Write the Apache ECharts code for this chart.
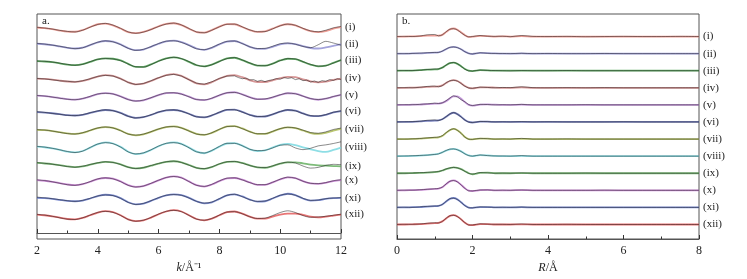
<!DOCTYPE html>
<html>
<head>
<meta charset="utf-8">
<script src="https://cdn.jsdelivr.net/npm/echarts@6/dist/echarts.min.js"></script>
<style>
  html, body { margin: 0; padding: 0; background: #fff; }
  #chart { width: 747px; height: 279px; }
</style>
</head>
<body>
<div id="chart"></div>
<script>
// panel labels
var labels = ['(i)', '(ii)', '(iii)', '(iv)', '(v)', '(vi)', '(vii)', '(viii)', '(ix)', '(x)', '(xi)', '(xii)'];
var colors = ['#e8867c', '#8c8cd2', '#3f9a44', '#cc7c7c', '#b680d2', '#5562ae', '#a9b84c', '#72d6de', '#5caa58', '#c272d0', '#5d72c8', '#e25252'];

// a. k-space, k grid (Å^-1)
var kA = [2, 2.25, 2.5, 2.75, 3, 3.25, 3.5, 3.75, 4, 4.25, 4.5, 4.75, 5, 5.25, 5.5, 5.75, 6, 6.25, 6.5, 6.75,
  7, 7.25, 7.5, 7.75, 8, 8.25, 8.5, 8.75, 9, 9.25, 9.5, 9.75, 10, 10.25, 10.5, 10.75, 11, 11.25, 11.5, 11.75, 12];
// (iv) data is sampled finer at high k (noisy)
var kIV = [2, 2.25, 2.5, 2.75, 3, 3.25, 3.5, 3.75, 4, 4.25, 4.5, 4.75, 5, 5.25, 5.5, 5.75, 6, 6.25, 6.5, 6.75,
  7, 7.25, 7.5, 7.75, 8, 8.25, 8.5, 8.625, 8.75, 8.875, 9, 9.125, 9.25, 9.375, 9.5, 9.625, 9.75, 9.875, 10,
  10.125, 10.25, 10.375, 10.5, 10.625, 10.75, 10.875, 11, 11.125, 11.25, 11.375, 11.5, 11.625, 11.75, 11.875, 12];

var fitA1 = [0.03,-0.01,-0.07,-0.15,-0.21,-0.22,-0.12,0.06,0.22,0.26,0.16,-0.03,-0.24,-0.3,-0.23,-0.08,0.1,0.24,0.28,0.17,-0.04,-0.24,-0.27,-0.12,0.08,0.23,0.22,0.06,-0.12,-0.23,-0.2,-0.04,0.14,0.22,0.15,-0.03,-0.18,-0.24,-0.18,-0.04,0.05];
var datA1 = [0.04,0.0,-0.06,-0.14,-0.2,-0.23,-0.13,0.05,0.21,0.27,0.17,-0.02,-0.23,-0.31,-0.24,-0.09,0.09,0.23,0.29,0.18,-0.03,-0.23,-0.28,-0.13,0.07,0.22,0.23,0.07,-0.11,-0.22,-0.21,-0.05,0.13,0.23,0.16,-0.02,-0.17,-0.22,-0.13,0.01,0.09];
var fitA2 = [0.08,0.05,0.0,-0.08,-0.16,-0.2,-0.15,0.0,0.16,0.24,0.2,0.04,-0.18,-0.3,-0.26,-0.1,0.08,0.22,0.26,0.18,0.0,-0.2,-0.28,-0.16,0.04,0.2,0.24,0.1,-0.1,-0.22,-0.22,-0.1,0.04,0.1,0.06,-0.06,-0.17,-0.2,-0.14,-0.04,0.04];
var datA2 = [0.1,0.06,0.0,-0.07,-0.15,-0.21,-0.16,0.01,0.17,0.25,0.19,0.03,-0.19,-0.31,-0.25,-0.09,0.09,0.23,0.25,0.16,-0.02,-0.22,-0.27,-0.14,0.06,0.22,0.24,0.09,-0.1,-0.2,-0.19,-0.07,0.08,0.12,0.05,-0.08,-0.15,0.02,0.22,0.12,0.0];
var fitA3 = [0.06,0.04,0.0,-0.07,-0.14,-0.17,-0.12,0.02,0.16,0.22,0.2,0.1,-0.1,-0.28,-0.28,-0.13,0.07,0.22,0.28,0.2,0.02,-0.18,-0.24,-0.14,0.05,0.22,0.26,0.12,-0.06,-0.2,-0.2,-0.08,0.1,0.2,0.18,0.02,-0.14,-0.24,-0.2,-0.04,0.12];
var datA3 = [0.07,0.05,0.01,-0.06,-0.13,-0.18,-0.13,0.03,0.17,0.21,0.19,0.09,-0.11,-0.27,-0.29,-0.14,0.06,0.21,0.29,0.21,0.03,-0.17,-0.25,-0.15,0.04,0.21,0.27,0.13,-0.05,-0.19,-0.21,-0.09,0.09,0.21,0.19,0.03,-0.13,-0.23,-0.21,-0.05,0.13];
var fitA4 = [0.04,0.02,-0.02,-0.08,-0.13,-0.15,-0.1,0.02,0.16,0.24,0.2,0.04,-0.18,-0.3,-0.26,-0.1,0.08,0.24,0.3,0.2,-0.02,-0.24,-0.3,-0.17,0.04,0.2,0.24,0.12,-0.06,-0.16,-0.16,-0.06,0.06,0.14,0.12,0.0,-0.12,-0.18,-0.14,-0.04,0.04];
var datA4 = [0.05,0.02,-0.03,-0.09,-0.12,-0.16,-0.09,0.03,0.17,0.23,0.19,0.03,-0.19,-0.31,-0.25,-0.09,0.09,0.23,0.29,0.19,-0.03,-0.23,-0.29,-0.15,0.05,0.19,0.2,
  0.1,0.03,0.07,-0.04,-0.02,-0.12,-0.06,-0.14,-0.07,-0.03,0.04,0.0,0.1,0.05,0.09,-0.02,0.03,-0.08,-0.05,-0.16,-0.1,-0.18,-0.08,-0.12,-0.02,-0.07,0.03,-0.01];
var fitA5 = [0.04,0.01,-0.04,-0.1,-0.16,-0.19,-0.14,-0.01,0.13,0.19,0.15,0.0,-0.18,-0.27,-0.23,-0.09,0.07,0.19,0.2,0.14,-0.02,-0.18,-0.22,-0.12,0.06,0.2,0.24,0.12,-0.05,-0.16,-0.16,-0.06,0.08,0.18,0.16,0.02,-0.14,-0.2,-0.14,-0.02,0.08];
var datA5 = [0.05,0.02,-0.04,-0.11,-0.17,-0.2,-0.13,0.0,0.14,0.18,0.14,-0.01,-0.19,-0.28,-0.22,-0.08,0.08,0.2,0.21,0.13,-0.03,-0.19,-0.21,-0.11,0.07,0.21,0.23,0.11,-0.06,-0.17,-0.15,-0.05,0.09,0.19,0.15,0.01,-0.13,-0.19,-0.13,-0.01,0.09];
var fitA6 = [0.08,0.05,0.01,-0.04,-0.1,-0.12,-0.08,0.03,0.14,0.2,0.17,0.03,-0.16,-0.26,-0.22,-0.09,0.07,0.18,0.2,0.14,-0.02,-0.19,-0.23,-0.12,0.06,0.21,0.22,0.09,-0.08,-0.19,-0.18,-0.06,0.1,0.2,0.16,0.0,-0.14,-0.16,-0.08,0.06,0.14];
var datA6 = [0.1,0.06,0.0,-0.05,-0.11,-0.13,-0.07,0.04,0.15,0.21,0.16,0.02,-0.17,-0.27,-0.21,-0.08,0.08,0.19,0.21,0.13,-0.03,-0.2,-0.22,-0.11,0.07,0.22,0.21,0.08,-0.09,-0.18,-0.17,-0.05,0.11,0.21,0.15,-0.01,-0.13,-0.15,-0.07,0.07,0.15];
var fitA7 = [0.04,0.02,-0.03,-0.1,-0.17,-0.2,-0.14,0.0,0.14,0.2,0.16,0.0,-0.2,-0.28,-0.22,-0.08,0.08,0.2,0.24,0.16,-0.02,-0.2,-0.26,-0.14,0.06,0.24,0.26,0.12,-0.06,-0.2,-0.2,-0.06,0.1,0.18,0.14,0.0,-0.15,-0.2,-0.14,0.0,0.1];
var datA7 = [0.05,0.03,-0.03,-0.11,-0.18,-0.21,-0.13,0.01,0.15,0.21,0.15,-0.01,-0.21,-0.27,-0.21,-0.07,0.09,0.21,0.23,0.15,-0.03,-0.21,-0.25,-0.13,0.07,0.23,0.25,0.11,-0.07,-0.19,-0.19,-0.05,0.11,0.19,0.15,0.02,-0.12,-0.16,-0.08,0.06,0.14];
var fitA8 = [0.06,0.02,-0.05,-0.14,-0.24,-0.28,-0.2,0.0,0.2,0.3,0.24,0.04,-0.24,-0.38,-0.32,-0.14,0.08,0.24,0.3,0.22,0.0,-0.24,-0.33,-0.18,0.06,0.24,0.26,0.12,-0.1,-0.2,-0.16,0.0,0.16,0.22,0.14,0.02,-0.1,-0.2,-0.25,-0.14,0.0];
var datA8 = [0.07,0.03,-0.04,-0.13,-0.23,-0.29,-0.21,0.01,0.21,0.29,0.23,0.03,-0.25,-0.37,-0.31,-0.13,0.09,0.25,0.29,0.21,-0.01,-0.25,-0.32,-0.17,0.07,0.25,0.25,0.11,-0.1,-0.18,-0.16,-0.02,0.14,0.16,-0.02,-0.12,-0.04,0.1,0.16,0.24,0.34];
var fitA9 = [0.1,0.07,0.03,-0.03,-0.1,-0.14,-0.1,0.0,0.1,0.16,0.14,0.02,-0.14,-0.22,-0.18,-0.06,0.06,0.16,0.2,0.14,-0.02,-0.18,-0.24,-0.14,0.04,0.16,0.18,0.1,-0.04,-0.16,-0.18,-0.08,0.06,0.14,0.14,0.08,0.0,-0.04,-0.06,-0.08,-0.1];
var datA9 = [0.12,0.08,0.03,-0.04,-0.11,-0.15,-0.09,0.01,0.11,0.17,0.13,0.01,-0.15,-0.23,-0.17,-0.05,0.07,0.17,0.21,0.13,-0.03,-0.19,-0.23,-0.13,0.05,0.17,0.19,0.09,-0.05,-0.15,-0.17,-0.07,0.07,0.15,0.1,-0.08,-0.2,-0.16,-0.04,0.02,0.0];
var fitA10 = [0.1,0.06,0.0,-0.08,-0.16,-0.2,-0.14,0.0,0.16,0.22,0.18,0.02,-0.2,-0.3,-0.26,-0.1,0.08,0.24,0.32,0.24,0.02,-0.2,-0.28,-0.16,0.04,0.2,0.22,0.12,-0.04,-0.18,-0.18,-0.04,0.14,0.26,0.22,0.04,-0.1,-0.12,-0.06,0.04,0.1];
var datA10 = [0.11,0.07,0.0,-0.09,-0.17,-0.21,-0.13,0.01,0.17,0.23,0.17,0.01,-0.21,-0.31,-0.25,-0.09,0.09,0.25,0.31,0.23,0.01,-0.21,-0.27,-0.15,0.05,0.21,0.23,0.11,-0.05,-0.17,-0.17,-0.03,0.15,0.27,0.21,0.03,-0.09,-0.11,-0.05,0.06,0.12];
var fitA11 = [0.06,0.04,0.0,-0.06,-0.12,-0.14,-0.1,0.02,0.16,0.24,0.2,0.04,-0.2,-0.32,-0.28,-0.12,0.06,0.2,0.26,0.22,0.06,-0.14,-0.26,-0.2,0.0,0.2,0.26,0.14,-0.04,-0.16,-0.14,0.02,0.2,0.3,0.22,0.02,-0.1,-0.08,0.0,0.04,0.06];
var datA11 = [0.1,0.06,0.01,-0.05,-0.11,-0.15,-0.09,0.03,0.17,0.23,0.19,0.03,-0.21,-0.33,-0.27,-0.11,0.07,0.21,0.25,0.21,0.05,-0.15,-0.25,-0.19,0.01,0.21,0.27,0.13,-0.05,-0.15,-0.13,0.03,0.21,0.29,0.21,0.03,-0.09,-0.07,0.01,0.05,0.07];
var fitA12 = [0.08,0.04,-0.02,-0.1,-0.18,-0.2,-0.12,0.04,0.2,0.28,0.22,0.04,-0.2,-0.3,-0.26,-0.1,0.1,0.26,0.34,0.26,0.04,-0.18,-0.26,-0.16,0.04,0.22,0.26,0.14,-0.04,-0.16,-0.16,-0.04,0.08,0.14,0.14,0.06,-0.04,-0.08,-0.04,0.02,0.08];
var datA12 = [0.09,0.05,-0.02,-0.11,-0.19,-0.21,-0.11,0.05,0.21,0.27,0.21,0.03,-0.21,-0.31,-0.25,-0.09,0.11,0.27,0.33,0.25,0.03,-0.19,-0.25,-0.15,0.05,0.23,0.25,0.13,-0.05,-0.15,-0.13,0.02,0.2,0.3,0.2,0.02,-0.08,-0.06,-0.02,0.04,0.1];

// b. R-space, R grid (Å)
var rB = [0, 0.2, 0.4, 0.6, 0.8, 1.0, 1.1, 1.2, 1.3, 1.4, 1.5, 1.6, 1.7, 1.8, 1.9, 2.0, 2.2, 2.4, 2.6, 2.8, 3.0, 3.3, 3.6, 4.0, 4.5, 5.0, 5.5, 6.0, 6.5, 7.0, 7.5, 8.0];

var fitB1 = [0,0,0.01,0.02,0.05,0.06,0.05,0.1,0.26,0.42,0.47,0.4,0.24,0.08,-0.02,-0.01,0.04,0.03,0,0.01,0,0.02,0,0,0,0,0,0,0,0,0,0];
var datB1 = [0,0.01,0,0.03,0.1,0.12,0.04,0.1,0.28,0.43,0.46,0.38,0.22,0.07,-0.02,0,0.06,0.02,0.01,0.02,-0.01,0.06,0.01,0,0.01,-0.01,0,0.01,0,0,0.01,0];
var fitB2 = [0,0,0.01,0.02,0.04,0.06,0.08,0.14,0.26,0.36,0.4,0.36,0.26,0.12,0.02,-0.02,0.04,0.03,0.01,0,0,0.01,0,0,0,0,0,0,0,0,0,0];
var datB2 = [0,0,0.01,0.03,0.05,0.07,0.07,0.15,0.27,0.37,0.39,0.35,0.25,0.11,0.01,-0.02,0.05,0.02,0.01,0.01,0,0.02,0,0.01,0,0,0.01,0,0,0,0,0];
var fitB3 = [0,0,0.01,0.03,0.06,0.08,0.1,0.18,0.32,0.44,0.47,0.4,0.26,0.1,0,-0.02,0.03,0.02,0,0,0,0,0,0,0,0,0,0,0,0,0,0];
var datB3 = [0,0.01,0.01,0.03,0.07,0.1,0.11,0.18,0.33,0.45,0.48,0.41,0.25,0.09,-0.01,-0.02,0.04,0.02,0.01,0,-0.01,0.01,0,0,0.01,0,0,0,0,0,0,0];
var fitB4 = [0,0,0.01,0.02,0.05,0.07,0.08,0.14,0.28,0.4,0.45,0.4,0.26,0.1,0,-0.03,0.03,0.03,0.01,0,0,0.02,0,0,0,0,0,0,0,0,0,0];
var datB4 = [0,0.01,0,0.03,0.08,0.1,0.06,0.13,0.29,0.41,0.44,0.39,0.25,0.09,-0.01,-0.03,0.04,0.02,0,0.02,0.01,0.06,0.01,0,0.01,0,0.01,0,0,0,0,0];
var fitB5 = [0,0,0.01,0.02,0.05,0.07,0.08,0.12,0.22,0.38,0.5,0.5,0.36,0.16,0,-0.04,0.02,0.03,0.01,0,0,0.01,0,0,0,0,0,0,0,0,0,0];
var datB5 = [0,0.01,0.01,0.03,0.06,0.1,0.08,0.12,0.24,0.4,0.53,0.46,0.3,0.18,0.02,-0.04,0.03,0.02,0,0.01,0,0.03,0,0,0,0.01,0,0,0,0,0,0];
var fitB6 = [0,0,0.01,0.03,0.06,0.08,0.1,0.16,0.3,0.46,0.54,0.46,0.3,0.12,0,-0.03,0.02,0.02,0,0,0,0.01,0,0,0,0,0,0,0,0,0,0];
var datB6 = [0,0.01,0.02,0.04,0.1,0.12,0.09,0.16,0.31,0.47,0.55,0.45,0.29,0.11,-0.01,-0.03,0.03,0.02,0,0.01,0,0.02,0,0.01,0,0,0,0.01,0,0,0,0];
var fitB7 = [0,0,0.01,0.03,0.06,0.08,0.1,0.18,0.36,0.52,0.6,0.52,0.34,0.12,0,-0.02,0.03,0.02,0,0,0,0.01,0,0,0,0,0,0,0,0,0,0];
var datB7 = [0,0,0.01,0.03,0.07,0.1,0.12,0.2,0.37,0.53,0.6,0.51,0.33,0.11,-0.01,-0.02,0.04,0.02,0,0.01,0,0.04,0,0,0.01,0,0,0,0,0,0,0];
var fitB8 = [0,0,0.01,0.03,0.06,0.1,0.14,0.22,0.32,0.4,0.42,0.38,0.28,0.14,0.04,0,0.06,0.04,0.01,0,0,0.01,0,0,0,0,0,0,0,0,0,0];
var datB8 = [0,0.01,0.02,0.04,0.06,0.1,0.13,0.22,0.33,0.41,0.42,0.37,0.27,0.13,0.03,0,0.07,0.03,0.01,0.01,0,0.03,0,0,0,0,0,0,0,0,0,0];
var fitB9 = [0,0,0.01,0.02,0.04,0.07,0.1,0.16,0.24,0.3,0.34,0.32,0.24,0.12,0,-0.06,0.02,0.03,0,0,0,0.01,0,0,0,0,0,0,0,0,0,0];
var datB9 = [0,0,0.01,0.03,0.05,0.08,0.1,0.16,0.25,0.31,0.34,0.31,0.23,0.11,-0.01,-0.05,0.04,0.02,0,0.01,0,0.02,0,0,0,0.01,0,0,0,0,0,0];
var fitB10 = [0,0,0.01,0.02,0.05,0.08,0.1,0.18,0.36,0.52,0.58,0.5,0.32,0.12,-0.02,-0.04,0.01,0.02,0,0,0,0.01,0,0,0,0,0,0,0,0,0,0];
var datB10 = [0,0.01,0.01,0.03,0.06,0.09,0.11,0.19,0.37,0.53,0.57,0.49,0.31,0.11,-0.03,-0.04,0.02,0.02,0,0.01,0,0.02,0,0,0,0,0.01,0,0,0,0,0];
var fitB11 = [0,0,0.01,0.02,0.05,0.07,0.09,0.17,0.34,0.5,0.55,0.47,0.3,0.11,-0.01,-0.03,0.02,0.02,0,0,0,0.01,0,0,0,0,0,0,0,0,0,0];
var datB11 = [0,0.01,0,0.03,0.06,0.08,0.09,0.17,0.35,0.51,0.54,0.46,0.29,0.1,-0.02,-0.03,0.03,0.02,0,0.01,0,0.02,0,0,0,0,0,0,0,0,0,0];
var fitB12 = [0,0,0.01,0.02,0.05,0.08,0.1,0.18,0.35,0.5,0.55,0.47,0.3,0.1,-0.02,-0.04,0.02,0.02,0,0,0,0.01,0,0,0,0,0,0,0,0,0,0];
var datB12 = [0,0.01,0.01,0.03,0.07,0.1,0.09,0.18,0.36,0.51,0.54,0.46,0.29,0.11,-0.03,-0.03,0.04,0.02,0.01,0.01,0,0.03,0,0,0.01,0,0,0,0,0,0,0];

var ticksA = [2, 4, 6, 8, 10, 12];
var ticksB = [0, 2, 4, 6, 8];

var fitA = [fitA1, fitA2, fitA3, fitA4, fitA5, fitA6, fitA7, fitA8, fitA9, fitA10, fitA11, fitA12];
var datA = [datA1, datA2, datA3, datA4, datA5, datA6, datA7, datA8, datA9, datA10, datA11, datA12];
var fitB = [fitB1, fitB2, fitB3, fitB4, fitB5, fitB6, fitB7, fitB8, fitB9, fitB10, fitB11, fitB12];
var datB = [datB1, datB2, datB3, datB4, datB5, datB6, datB7, datB8, datB9, datB10, datB11, datB12];

var serif = "'Liberation Serif', 'Times New Roman', serif";

function zip(xs, ys, off) {
  return xs.map(function (x, i) { return [x, ys[i] + off]; });
}

var series = [];
for (var n = 0; n < 12; n++) {
  var off = 12 - n;   // stacked offset, (i) on top
  [0, 1].forEach(function (p) {
    var fit = p === 0 ? fitA[n] : fitB[n];
    var dat = p === 0 ? datA[n] : datB[n];
    var xs = p === 0 ? kA : rB;
    series.push({
      type: 'line', xAxisIndex: p, yAxisIndex: p,
      data: zip(xs, fit, off),
      showSymbol: false, smooth: 0.3, silent: true, z: 2,
      lineStyle: { color: colors[n], width: 1.8, opacity: 0.8 },
      endLabel: { show: true, formatter: labels[n], color: '#222', fontFamily: serif, fontSize: 11, distance: 4 }
    });
    series.push({
      type: 'line', xAxisIndex: p, yAxisIndex: p,
      data: zip((p === 0 && n === 3) ? kIV : xs, dat, off),
      showSymbol: false, smooth: (p === 0 && n === 3) ? false : 0.3, silent: true, z: 3,
      lineStyle: { color: '#111', width: 0.7, opacity: 0.7 }
    });
  });
}

function xAx(idx, min, max, name, ticks) {
  return {
    type: 'value', gridIndex: idx, min: min, max: max, interval: 2,
    name: name, nameLocation: 'middle', nameGap: 20,
    nameTextStyle: { color: '#222', fontFamily: serif, fontSize: 12, rich: { it: { fontStyle: 'italic', fontFamily: serif, fontSize: 12, color: '#222' } } },
    axisLine: { lineStyle: { color: '#555' } },
    axisTick: { inside: true, length: 4, lineStyle: { color: '#333' } },
    minorTick: { show: true, splitNumber: 2, length: 2.5, lineStyle: { color: '#333' } },
    axisLabel: { color: '#222', fontFamily: serif, fontSize: 12, margin: 6,
      formatter: function (v) { return ticks.indexOf(v) >= 0 ? String(v) : ''; } },
    splitLine: { show: false }
  };
}

var option = {
  animation: false,
  backgroundColor: '#fff',
  title: [
    { text: 'a.', left: 42, top: 16, padding: 0, textStyle: { fontSize: 11, fontWeight: 'normal', color: '#222', fontFamily: serif } },
    { text: 'b.', left: 402, top: 16, padding: 0, textStyle: { fontSize: 11, fontWeight: 'normal', color: '#222', fontFamily: serif } }
  ],
  grid: [
    { left: 37, top: 14, width: 304, height: 225, show: true, borderColor: '#555', borderWidth: 1 },
    { left: 397, top: 14, width: 302, height: 225, show: true, borderColor: '#555', borderWidth: 1 }
  ],
  xAxis: [
    xAx(0, 2, 12, '{it|k}/Å⁻¹', ticksA),
    xAx(1, 0, 8, '{it|R}/Å', ticksB)
  ],
  yAxis: [
    { type: 'value', gridIndex: 0, min: -0.35, max: 12.82, show: false },
    { type: 'value', gridIndex: 1, min: 0.15, max: 13.32, show: false }
  ],
  series: series
};

var chart = echarts.init(document.getElementById('chart'), null, { renderer: 'canvas' });
chart.setOption(option);
</script>
</body>
</html>
